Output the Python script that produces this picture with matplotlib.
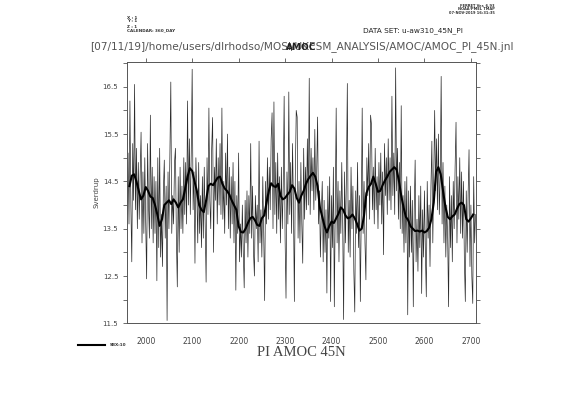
import numpy as np
import matplotlib
matplotlib.use("Agg")
import matplotlib.pyplot as plt
from matplotlib.ticker import FixedLocator

# AMOC at 45N, pre-industrial run, annual values sampled every 2 years (Sv)
years = np.arange(1960, 2711, 2)
amoc = [
    13.8, 15.1, 13.6, 16.2, 14.0,   12.8, 15.3, 14.1, 16.55, 13.9,
    15.2, 13.5, 14.9, 13.7, 14.6,   15.54, 13.2, 14.7, 13.4, 15.0,
    13.6, 12.44, 15.3, 14.0, 13.3,  15.9, 13.5, 14.8, 13.2, 14.6,
    13.4, 14.5, 12.4, 15.0, 13.1,   15.2, 12.9, 13.8, 12.7, 14.3,
    14.95, 13.3, 14.4, 11.56, 14.7, 13.5, 15.1, 16.6, 13.4, 14.2,
    13.6, 14.9, 15.2, 13.3, 12.27,  14.6, 13.0, 14.8, 13.5, 14.4,
    13.4, 15.0, 13.8, 14.9, 13.6,   16.2, 14.0, 15.4, 13.8, 15.1,
    16.87, 13.9, 14.7, 12.77, 15.0, 14.3, 13.2, 14.9, 13.4, 14.2,
    13.1, 14.6, 13.3, 14.8, 13.6,   12.37, 15.0, 13.8, 16.05, 14.1,
    13.5, 15.2, 15.85, 13.0, 14.8,  14.1, 15.4, 13.6, 15.0, 14.0,
    15.3, 13.8, 16.05, 13.7, 14.5,  13.4, 15.1, 14.0, 15.5, 13.5,
    14.8, 13.3, 14.6, 13.6, 14.9,   13.2, 14.5, 12.2, 14.2, 13.4,
    15.1, 12.8, 13.6, 12.9, 14.0,   13.0, 12.25, 14.1, 13.2, 14.3,
    12.9, 14.2, 13.4, 15.3, 13.3,   14.4, 13.0, 12.5, 14.2, 13.5,
    14.0, 12.8, 15.35, 13.2, 13.9,  12.9, 14.6, 13.4, 11.98, 14.5,
    13.6, 15.0, 13.7, 14.8, 13.9,   15.4, 15.95, 13.5, 16.18, 13.8,
    14.9, 13.4, 15.1, 13.7, 14.6,   13.2, 14.8, 13.5, 14.4, 16.3,
    13.3, 12.03, 14.7, 13.6, 16.39, 13.8, 14.9, 13.4, 15.3, 14.0,
    11.96, 14.6, 16.0, 15.86, 13.3, 14.5, 13.2, 14.9, 13.6, 12.77,
    15.2, 13.7, 14.8, 13.9, 15.4,   14.0, 16.68, 13.8, 15.2, 14.3,
    15.0, 13.9, 15.6, 14.1, 14.7,   15.86, 13.6, 14.3, 12.9, 13.8,
    14.5, 12.8, 14.1, 13.0, 13.9,   12.14, 14.4, 13.3, 14.6, 11.96,
    14.2, 13.1, 14.8, 11.85, 14.0,  16.05, 13.2, 14.5, 12.8, 14.3,
    13.4, 14.9, 13.6, 11.58, 14.7,  13.2, 14.6, 16.57, 13.0, 14.1,
    12.9, 14.8, 13.5, 14.4, 12.6,   11.74, 14.3, 13.4, 14.9, 13.1,
    14.2, 11.96, 13.8, 16.05, 13.4, 14.5, 13.2, 12.42, 15.0, 14.2,
    15.3, 13.7, 15.9, 15.7, 13.9,   14.8, 13.6, 15.2, 13.9, 14.6,
    13.5, 14.9, 14.0, 15.1, 13.6,   14.7, 12.95, 15.3, 14.2, 15.0,
    13.8, 15.4, 14.1, 15.0, 13.9,   16.3, 14.2, 15.1, 13.8, 16.9,
    14.3, 15.2, 13.7, 14.9, 13.5,   16.1, 13.4, 14.2, 13.0, 14.5,
    13.2, 14.6, 11.68, 14.3, 12.9,  14.4, 13.0, 14.1, 11.85, 13.9,
    14.95, 12.8, 13.7, 12.6, 14.2,  13.1, 14.4, 12.13, 13.9, 12.9,
    14.3, 13.0, 12.06, 14.5, 13.3,  14.0, 12.7, 14.4, 15.35, 13.2,
    14.6, 16.0, 14.3, 15.4, 13.9,   15.5, 13.8, 14.6, 16.72, 13.6,
    14.9, 13.2, 14.4, 12.9, 14.0,   13.3, 11.85, 14.6, 13.1, 14.2,
    12.8, 14.5, 13.5, 14.8, 15.75,  13.2, 14.6, 13.7, 15.0, 13.4,
    14.7, 13.3, 14.5, 12.8, 11.96,  14.3, 13.0, 14.2, 15.17, 12.7,
    14.0, 12.5, 11.92, 14.6, 13.2,  13.8,
]

# 10-year boxcar smoothed AMOC, read every 5 years
smooth_years = np.arange(1965, 2706, 5)
amoc_sbx10 = [
    14.40, 14.62, 14.65, 14.50, 14.30, 14.12, 14.20, 14.38, 14.30, 14.18,
    14.15, 14.00, 13.80, 13.56, 13.70, 14.00, 14.05, 14.10, 14.02, 14.12,
    14.05, 13.95, 14.05, 14.12, 14.35, 14.60, 14.78, 14.72, 14.50, 14.30,
    14.00, 13.90, 13.85, 14.10, 14.40, 14.45, 14.42, 14.50, 14.58, 14.60,
    14.45, 14.35, 14.30, 14.22, 14.10, 14.00, 13.90, 13.55, 13.43, 13.42,
    13.50, 13.62, 13.72, 13.75, 13.68, 13.58, 13.56, 13.72, 13.78, 14.05,
    14.30, 14.46, 14.40, 14.38, 14.45, 14.20, 14.12, 14.15, 14.22, 14.28,
    14.42, 14.35, 14.15, 14.05, 14.20, 14.30, 14.45, 14.55, 14.62, 14.68,
    14.60, 14.40, 13.95, 13.75, 13.55, 13.42, 13.55, 13.65, 13.62, 13.72,
    13.82, 13.95, 13.90, 13.78, 13.72, 13.74, 13.80, 13.72, 13.60, 13.46,
    13.50, 13.78, 14.25, 14.38, 14.45, 14.60, 14.45, 14.28, 14.30, 14.42,
    14.52, 14.60, 14.70, 14.75, 14.80, 14.75, 14.52, 14.20, 13.95, 13.75,
    13.68, 13.55, 13.50, 13.45, 13.46, 13.44, 13.46, 13.42, 13.45, 13.52,
    13.70, 14.05, 14.70, 14.80, 14.65, 14.30, 13.97, 13.75, 13.70, 13.76,
    13.80, 13.92, 14.02, 14.05, 14.00, 13.70, 13.65, 13.72, 13.80,
]

fig = plt.figure(figsize=(5.61, 3.97), dpi=100)
ax = fig.add_axes([0.2258, 0.1856, 0.6227, 0.659])

ax.plot(years, amoc, color="#2a2a2a", lw=0.5)
ax.plot(smooth_years, amoc_sbx10, color="black", lw=1.5)

ax.set_xlim(1959, 2711)
ax.set_ylim(11.5, 17.03)
ax.xaxis.set_major_locator(FixedLocator(range(2000, 2701, 100)))
ax.yaxis.set_major_locator(FixedLocator([11.5, 12.5, 13.5, 14.5, 15.5, 16.5]))
ax.yaxis.set_minor_locator(FixedLocator([12.0, 13.0, 14.0, 15.0, 16.0, 17.0]))
ax.tick_params(axis="both", which="both", direction="out", colors="#555555",
               labelcolor="#444444", labelsize=5.5, width=0.6)
ax.tick_params(axis="x", which="both", bottom=False, top=True, length=3, pad=7)
ax.tick_params(axis="y", which="both", left=True, right=True, length=3, pad=3)
ax.tick_params(axis="y", labelsize=5)
for s in ax.spines.values():
    s.set_color("#555555")
    s.set_linewidth(0.7)

ax.set_ylabel("Sverdrup", fontsize=5, color="#444444", labelpad=2)

# header texts
fig.text(126.7 / 561, 1 - 18 / 397, "X : 1", fontsize=3, weight="bold", color="#333333", va="center")
fig.text(126.7 / 561, 1 - 21.5 / 397, "Y : 1", fontsize=3, weight="bold", color="#333333", va="center")
fig.text(126.7 / 561, 1 - 27 / 397, "Z : 1", fontsize=3, weight="bold", color="#333333", va="center")
fig.text(126.7 / 561, 1 - 30.5 / 397, "CALENDAR: 360_DAY", fontsize=3, weight="bold",
         color="#333333", va="center")
fig.text(495 / 561, 1 - 6 / 397, "FERRET Ver. 6.93", fontsize=2.6, weight="bold",
         color="#333333", ha="right", va="center")
fig.text(495 / 561, 1 - 9.5 / 397, "NOAA/PMEL TMAP", fontsize=2.6, weight="bold",
         color="#333333", ha="right", va="center")
fig.text(495 / 561, 1 - 13 / 397, "07-NOV-2019 16:31:35", fontsize=2.6, weight="bold",
         color="#333333", ha="right", va="center")
fig.text(363 / 561, 1 - 31 / 397, "DATA SET: u-aw310_45N_PI", fontsize=5.3,
         color="#222222", va="center")
fig.text(90 / 561, 1 - 47 / 397,
         "[07/11/19]/home/users/dlrhodso/MOSI/UKESM_ANALYSIS/AMOC/AMOC_PI_45N.jnl",
         fontsize=7.6, color="#555555", va="center")
# variable title, drawn over the journal path as in the original
fig.text(301 / 561, 1 - 47 / 397, "AMOC", fontsize=6.5, weight="bold",
         color="#222222", ha="center", va="center")

# legend key
fig.add_artist(plt.Line2D([78 / 561, 105 / 561], [1 - 345 / 397, 1 - 345 / 397],
                          color="black", lw=1.5))
fig.text(110 / 561, 1 - 345 / 397, "SBX:10", fontsize=3, weight="bold",
         color="#333333", va="center")

fig.text(301 / 561, 1 - 353 / 397, "PI AMOC 45N", fontsize=10.5, family="Liberation Serif",
         color="#444444", ha="center", va="center")

fig.savefig("out.png", dpi=100)
